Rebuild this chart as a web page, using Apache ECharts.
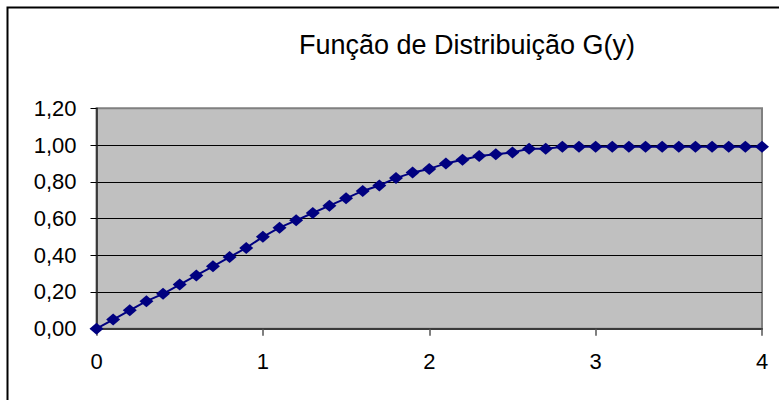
<!DOCTYPE html>
<html>
<head>
<meta charset="utf-8">
<script src="https://cdn.jsdelivr.net/npm/echarts@6/dist/echarts.min.js"></script>
<style>
  html, body { margin: 0; padding: 0; background: #fff; }
  #chart { width: 779px; height: 400px; }
</style>
</head>
<body>
<div id="chart"></div>
<script>
// Distribution function G(y), sampled every 0.1 on [0, 4]
const chartTitle = 'Função de Distribuição G(y)';
const yPoints = [
  0.0, 0.1, 0.2, 0.3, 0.4, 0.5, 0.6, 0.7, 0.8, 0.9,
  1.0, 1.1, 1.2, 1.3, 1.4, 1.5, 1.6, 1.7, 1.8, 1.9,
  2.0, 2.1, 2.2, 2.3, 2.4, 2.5, 2.6, 2.7, 2.8, 2.9,
  3.0, 3.1, 3.2, 3.3, 3.4, 3.5, 3.6, 3.7, 3.8, 3.9, 4.0
];
const gValues = [
  0.00, 0.05, 0.10, 0.15, 0.19, 0.24, 0.29, 0.34, 0.39, 0.44,
  0.50, 0.55, 0.59, 0.63, 0.67, 0.71, 0.75, 0.78, 0.82, 0.85,
  0.87, 0.90, 0.92, 0.94, 0.95, 0.96, 0.98, 0.98, 0.99, 0.99,
  0.99, 0.99, 0.99, 0.99, 0.99, 0.99, 0.99, 0.99, 0.99, 0.99, 0.99
];
const xTickLabels = ['0', '1', '2', '3', '4'];
const yTickLabels = ['0,00', '0,20', '0,40', '0,60', '0,80', '1,00', '1,20'];

const FONT = '"Liberation Sans", Arial, sans-serif';
const chart = echarts.init(document.getElementById('chart'), null, { renderer: 'svg' });

chart.setOption({
  animation: false,
  backgroundColor: '#ffffff',
  graphic: [
    {
      type: 'rect',
      shape: { x: 7.5, y: 7.5, width: 900, height: 900 },
      style: { fill: 'none', stroke: '#000', lineWidth: 2 },
      z: -10
    },
    {
      type: 'text',
      x: 467,
      y: 45,
      style: {
        text: chartTitle,
        fontFamily: FONT,
        fontSize: 27,
        fill: '#000',
        textAlign: 'center',
        textVerticalAlign: 'middle'
      }
    }
  ],
  grid: {
    left: 96.5,
    right: 17,
    top: 108.3,
    bottom: 71.3,
    show: true,
    backgroundColor: '#C0C0C0',
    borderColor: '#808080',
    borderWidth: 2
  },
  xAxis: {
    type: 'value',
    min: 0,
    max: 4,
    interval: 1,
    axisLine: { show: true, onZero: false, lineStyle: { color: '#3a3a3a', width: 2 } },
    axisTick: { show: true, inside: false, length: 7, lineStyle: { color: '#555', width: 1.5 } },
    splitLine: { show: false },
    axisLabel: {
      margin: 22,
      fontFamily: FONT,
      fontSize: 22,
      color: '#000',
      formatter: (v) => xTickLabels[Math.round(v)]
    }
  },
  yAxis: {
    type: 'value',
    min: 0,
    max: 1.2,
    interval: 0.2,
    axisLine: { show: true, lineStyle: { color: '#222', width: 1.5 } },
    axisTick: { show: true, inside: false, length: 6, lineStyle: { color: '#000', width: 1 } },
    splitLine: {
      show: true,
      showMinLine: false,
      showMaxLine: false,
      lineStyle: { color: '#000', width: 1 }
    },
    axisLabel: {
      margin: 20,
      fontFamily: FONT,
      fontSize: 22,
      color: '#000',
      formatter: (v) => yTickLabels[Math.round(v / 0.2)]
    }
  },
  series: [
    {
      type: 'line',
      data: yPoints.map((x, i) => [x, gValues[i]]),
      symbol: 'diamond',
      symbolSize: [14, 12],
      showAllSymbol: true,
      clip: false,
      itemStyle: { color: '#000080', borderWidth: 0 },
      lineStyle: { color: '#000080', width: 2 }
    }
  ]
});
</script>
</body>
</html>
